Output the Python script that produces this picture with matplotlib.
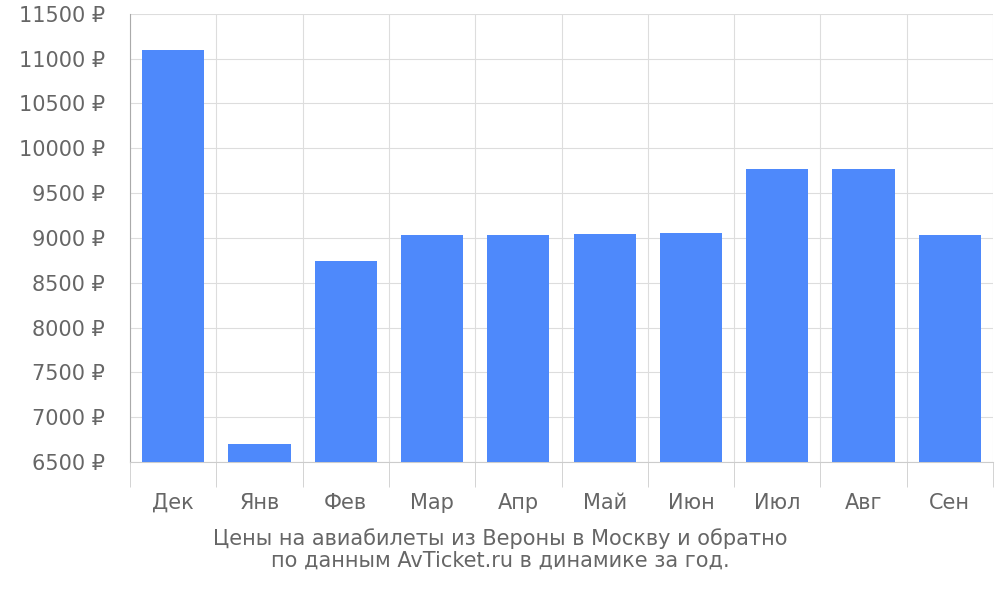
import matplotlib
matplotlib.use("Agg")
import matplotlib.pyplot as plt
import numpy as np

months = ["Дек", "Янв", "Фев", "Мар", "Апр", "Май", "Июн", "Июл", "Авг", "Сен"]
prices = [11100, 6700, 8745, 9030, 9030, 9045, 9050, 9770, 9770, 9030]
yticks = list(range(6500, 11501, 500))

fig = plt.figure(figsize=(10, 6), dpi=100)
ax = fig.add_axes([0.130, 0.230, 0.863, 0.747])
x = np.arange(len(months))
ax.bar(x, prices, width=0.72, color="#4e89fb", zorder=3)
ax.set_xlim(-0.5, len(months) - 0.5)
ax.set_ylim(6500, 11500)
ax.set_yticks(yticks)
ax.set_yticklabels([f"{v} ₽" for v in yticks], fontsize=15, color="#666666")
ax.set_xticks(x)
ax.set_xticklabels(months, fontsize=15, color="#666666")
ax.tick_params(axis="x", length=0, pad=22)
ax.tick_params(axis="y", length=0, pad=18)
ax.set_xticks(np.arange(-0.5, len(months)), minor=True)
ax.tick_params(axis="x", which="minor", length=18, color="#cccccc")
ax.grid(axis="y", color="#dddddd", zorder=0)
ax.grid(axis="x", which="minor", color="#dddddd", zorder=0)
for s in ["top", "right"]:
    ax.spines[s].set_visible(False)
ax.spines["bottom"].set_color("#cccccc")
ax.spines["left"].set_color("#aaaaaa")
ax.spines["left"].set_bounds(6500, 11500)
fig.text(0.5, 0.085, "Цены на авиабилеты из Вероны в Москву и обратно\nпо данным AvTicket.ru в динамике за год.",
         ha="center", va="center", fontsize=15, color="#666666", linespacing=1.1)
fig.savefig("out.png", dpi=100)
